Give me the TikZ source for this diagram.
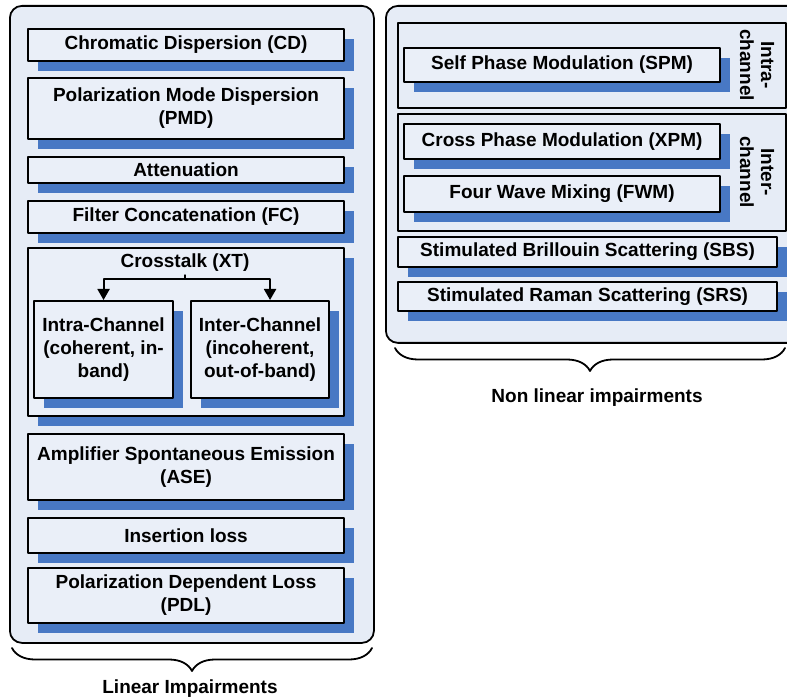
\documentclass[tikz,border=0pt]{standalone}
\usepackage{fontspec}
\setmainfont{Liberation Sans}
\usetikzlibrary{arrows.meta,shadows,decorations.pathreplacing}

\definecolor{panelfill}{RGB}{230,236,246}
\definecolor{boxfill}{RGB}{234,239,248}
\definecolor{shadowblue}{RGB}{72,120,196}

\tikzset{
  impfont/.style={font=\bfseries\fontsize{19}{23}\selectfont},
  impbox/.style={draw,line width=2.1pt,fill=boxfill,align=center,impfont,
    inner sep=0pt,anchor=north west,
    drop shadow={fill=shadowblue,opacity=1,shadow xshift=10pt,shadow yshift=-10pt}},
  panel/.style={draw,line width=1.8pt,fill=panelfill,rounded corners=12pt,
    anchor=north west,inner sep=0pt},
  groupbox/.style={draw,line width=2.1pt,fill=panelfill,anchor=north west,inner sep=0pt},
  xtarrow/.style={line width=2pt,-{Triangle[length=11pt,width=12pt]}},
  bracel/.style={line width=1.8pt,decorate,decoration={brace,mirror,amplitude=23pt}}
}

\begin{document}
\begin{tikzpicture}[x=1pt,y=-1pt,line cap=round,line join=round]
  \path[use as bounding box,clip] (0,0) rectangle (787,700);

  % linear impairments
  \node[panel,minimum width=364pt,minimum height=637pt] (linpanel) at (9,5) {};
  \node[impbox,minimum width=316pt,minimum height=32pt] (cd) at (27,28) {Chromatic Dispersion (CD)};
  \node[impbox,minimum width=316pt,minimum height=61pt] (pmd) at (27,77) {Polarization Mode Dispersion\\(PMD)};
  \node[impbox,minimum width=316pt,minimum height=26pt] (att) at (27,156) {Attenuation};
  \node[impbox,minimum width=316pt,minimum height=32pt] (fc) at (27,200) {Filter Concatenation (FC)};
  \node[impbox,minimum width=316pt,minimum height=168pt] (xtbox) at (27,247) {};
  \node[impfont] (xt) at (185,263) {Crosstalk (XT)};
  \node[impbox,minimum width=139pt,minimum height=97pt] (intra) at (33,300) {Intra-Channel\\(coherent, in-\\band)};
  \node[impbox,minimum width=138pt,minimum height=97pt] (inter) at (190,300) {Inter-Channel\\(incoherent,\\out-of-band)};
  \node[impbox,minimum width=316pt,minimum height=66pt] (ase) at (27,433) {Amplifier Spontaneous Emission\\(ASE)};
  \node[impbox,minimum width=316pt,minimum height=35pt] (il) at (27,517) {Insertion loss};
  \node[impbox,minimum width=316pt,minimum height=55pt] (pdl) at (27,567) {Polarization Dependent Loss\\(PDL)};

  \draw[xtarrow] (xt.south) -- ++(0,4) -| (intra.north);
  \draw[xtarrow] (xt.south) -- ++(0,4) -| ([xshift=10pt]inter.north);

  % non linear impairments
  \node[panel,minimum width=420pt,minimum height=337pt] (nlpanel) at (385,5) {};
  \node[groupbox,minimum width=388pt,minimum height=85pt] (intragrp) at (397,22) {};
  \node[impbox,minimum width=316pt,minimum height=34pt] (spm) at (403,47) {Self Phase Modulation (SPM)};
  \node[impfont,align=center,rotate=-90,font=\bfseries\fontsize{19}{21}\selectfont] (intralbl) at (757,65) {Intra-\\channel};
  \node[groupbox,minimum width=388pt,minimum height=117pt] (intergrp) at (397,113) {};
  \node[impbox,minimum width=316pt,minimum height=35pt] (xpm) at (403,123) {Cross Phase Modulation (XPM)};
  \node[impbox,minimum width=316pt,minimum height=36pt] (fwm) at (403,175) {Four Wave Mixing (FWM)};
  \node[impfont,align=center,rotate=-90,font=\bfseries\fontsize{19}{21}\selectfont] (interlbl) at (757,172) {Inter-\\channel};
  \node[impbox,minimum width=379pt,minimum height=30pt] (sbs) at (397,236) {Stimulated Brillouin Scattering (SBS)};
  \node[impbox,minimum width=379pt,minimum height=29pt] (srs) at (397,281) {Stimulated Raman Scattering (SRS)};

  % braces and captions
  \draw[bracel] (12,648) -- (372,648);
  \node[impfont] (linlbl) at (190,689) {Linear Impairments};
  \draw[bracel] (395,348) -- (785,348);
  \node[impfont] (nllbl) at (597,398) {Non linear impairments};
\end{tikzpicture}
\end{document}
